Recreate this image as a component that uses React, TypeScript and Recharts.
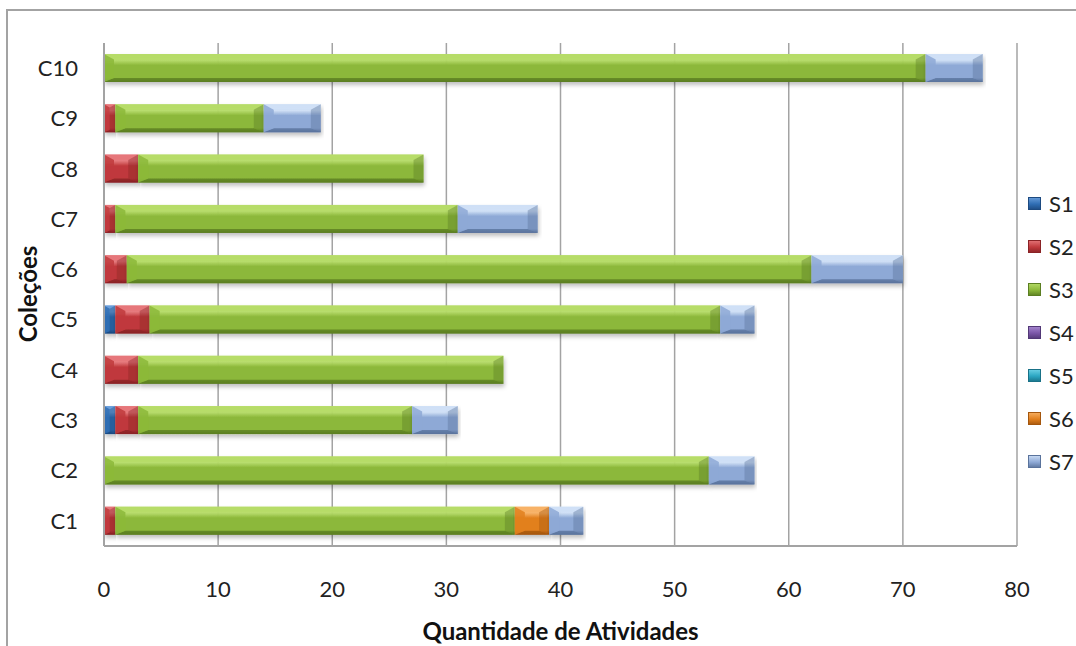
import React from "react";
import {
  BarChart,
  Bar,
  XAxis,
  YAxis,
  CartesianGrid,
  Legend,
} from "recharts";

const CATEGORIES = ["C1", "C2", "C3", "C4", "C5", "C6", "C7", "C8", "C9", "C10"];

// activities per collection, one array per series (segment lengths)
const S1 = [0, 0, 1, 0, 1, 0, 0, 0, 0, 0];
const S2 = [1, 0, 2, 3, 3, 2, 1, 3, 1, 0];
const S3 = [35, 53, 24, 32, 50, 60, 30, 25, 13, 72];
const S4 = [0, 0, 0, 0, 0, 0, 0, 0, 0, 0];
const S5 = [0, 0, 0, 0, 0, 0, 0, 0, 0, 0];
const S6 = [3, 0, 0, 0, 0, 0, 0, 0, 0, 0];
const S7 = [3, 4, 4, 0, 3, 8, 7, 0, 5, 5];

const X_TICKS = [0, 10, 20, 30, 40, 50, 60, 70, 80];

const SERIES = [
  { key: "S1", values: S1, base: "#2f6db3", light: "#6a9fdc", dark: "#1d4a80" },
  { key: "S2", values: S2, base: "#c0393c", light: "#e6777a", dark: "#8a2326" },
  { key: "S3", values: S3, base: "#8cb83a", light: "#b6dc68", dark: "#5b7e22" },
  { key: "S4", values: S4, base: "#7b57a8", light: "#a98ad2", dark: "#523876" },
  { key: "S5", values: S5, base: "#2ba6c2", light: "#6fd3e7", dark: "#197187" },
  { key: "S6", values: S6, base: "#e2801e", light: "#f8b266", dark: "#a4560d" },
  { key: "S7", values: S7, base: "#8ea9d6", light: "#cfe0f6", dark: "#5a739c" },
];

const data = CATEGORIES.map((name, i) => {
  const row: Record<string, string | number> = { name };
  SERIES.forEach((s) => {
    row[s.key] = s.values[i];
  });
  return row;
});

const FONT = "Lato, 'Open Sans', sans-serif";

// bevelled bar segment: gradient face with light top edge and darker sides
function BevelBar(props: any) {
  const { x, y, width, height, seriesKey } = props;
  if (!width || width <= 0) return null;
  const s = SERIES.find((d) => d.key === seriesKey)!;
  const b = Math.min(10, width / 2, height / 2);
  const x2 = x + width;
  const y2 = y + height;
  const t = b * 0.55;
  const u = b * 0.4;
  return (
    <g filter="url(#barShadow)">
      <rect x={x} y={y} width={width} height={height} fill={`url(#face-${s.key})`} />
      <polygon
        points={`${x},${y} ${x2},${y} ${x2 - b},${y + t} ${x + b},${y + t}`}
        fill={s.light}
        opacity={0.8}
      />
      <polygon
        points={`${x},${y2} ${x2},${y2} ${x2 - b},${y2 - u} ${x + b},${y2 - u}`}
        fill={s.dark}
        opacity={0.75}
      />
      <polygon
        points={`${x},${y} ${x + b},${y + t} ${x + b},${y2 - u} ${x},${y2}`}
        fill={s.base}
        opacity={0.85}
      />
      <polygon
        points={`${x2},${y} ${x2 - b},${y + t} ${x2 - b},${y2 - u} ${x2},${y2}`}
        fill={s.dark}
        opacity={0.4}
      />
    </g>
  );
}

function LegendBox() {
  return (
    <div style={{ fontFamily: FONT, fontSize: 22, color: "#222" }}>
      {SERIES.map((s) => (
        <div
          key={s.key}
          style={{ display: "flex", alignItems: "center", height: 43, whiteSpace: "nowrap" }}
        >
          <span
            style={{
              display: "inline-block",
              width: 13,
              height: 13,
              marginRight: 8,
              background: `linear-gradient(180deg, ${s.light} 0%, ${s.base} 55%, ${s.dark} 100%)`,
              boxShadow: `inset 0 0 0 1px ${s.dark}`,
            }}
          />
          {s.key}
        </div>
      ))}
    </div>
  );
}

function YTitle() {
  return (
    <text
      x={31}
      y={294}
      transform="rotate(-90 31 294)"
      textAnchor="middle"
      dominantBaseline="middle"
      fontFamily={FONT}
      fontSize={24}
      fontWeight="bold"
      fill="#111"
    >
      Coleções
    </text>
  );
}

export default function App() {
  return (
    <div style={{ position: "absolute", left: 0, top: 0, width: 1076, height: 646, background: "#fff", overflow: "hidden" }}>
      <div
        style={{
          position: "absolute",
          left: 6,
          top: 9,
          width: 1100,
          height: 700,
          borderLeft: "2px solid #a3a3a3",
          borderTop: "2px solid #a3a3a3",
        }}
      />
      <BarChart
        width={1076}
        height={646}
        data={data}
        layout="vertical"
        barSize={28}
        margin={{ top: 43, right: 59, bottom: 0, left: 0 }}
        style={{ position: "absolute", left: 0, top: 0 }}
      >
        <defs>
          {SERIES.map((s) => (
            <linearGradient key={s.key} id={`face-${s.key}`} x1="0" y1="0" x2="0" y2="1">
              <stop offset="0%" stopColor={s.light} />
              <stop offset="22%" stopColor={s.light} stopOpacity={0.95} />
              <stop offset="40%" stopColor={s.base} />
              <stop offset="85%" stopColor={s.base} />
              <stop offset="100%" stopColor={s.dark} />
            </linearGradient>
          ))}
          <filter id="barShadow" x="-5%" y="-20%" width="110%" height="160%">
            <feDropShadow dx="1" dy="3" stdDeviation="2" floodColor="#000" floodOpacity="0.25" />
          </filter>
        </defs>
        <CartesianGrid horizontal={false} stroke="#a3a3a3" strokeWidth={1.5} />
        <XAxis
          type="number"
          domain={[0, 80]}
          ticks={X_TICKS}
          interval={0}
          height={100}
          tickSize={0}
          tickMargin={35}
          axisLine={{ stroke: "#a3a3a3", strokeWidth: 2 }}
          tickLine={false}
          tick={{ fontFamily: FONT, fontSize: 22, fill: "#222" }}
          label={{
            value: "Quantidade de Atividades",
            position: "insideBottom",
            offset: 6,
            style: { fontFamily: FONT, fontSize: 24, fontWeight: "bold", fill: "#111" },
          }}
        />
        <YAxis
          type="category"
          dataKey="name"
          reversed
          width={104}
          tickSize={0}
          tickMargin={26}
          axisLine={{ stroke: "#a3a3a3", strokeWidth: 2 }}
          tickLine={false}
          tick={{ fontFamily: FONT, fontSize: 22, fill: "#222" }}
          label={<YTitle />}
        />
        <Legend
          layout="horizontal"
          align="center"
          verticalAlign="middle"
          content={() => <LegendBox />}
          wrapperStyle={{ position: "absolute", left: 1028, top: 182, width: 60, right: "auto" }}
        />
        {SERIES.map((s) => (
          <Bar
            key={s.key}
            dataKey={s.key}
            stackId="a"
            fill={s.base}
            isAnimationActive={false}
            shape={(p: any) => <BevelBar {...p} seriesKey={s.key} />}
          />
        ))}
      </BarChart>
    </div>
  );
}
